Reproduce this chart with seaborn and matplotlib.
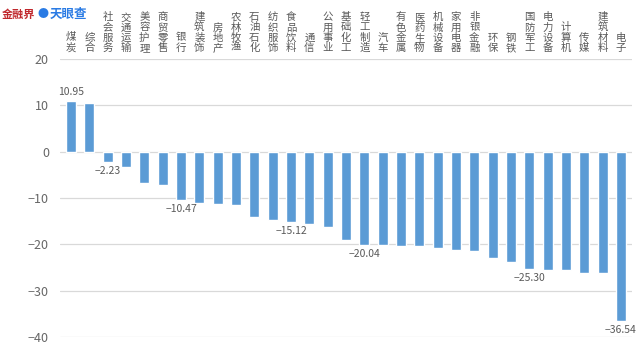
import matplotlib
matplotlib.use("Agg")
import matplotlib.pyplot as plt
import matplotlib.transforms as mtransforms
import seaborn as sns
import pandas as pd

sectors = ["煤炭", "综合", "社会服务", "交通运输", "美容护理", "商贸零售", "银行", "建筑装饰",
           "房地产", "农林牧渔", "石油石化", "纺织服饰", "食品饮料", "通信", "公用事业", "基础化工",
           "轻工制造", "汽车", "有色金属", "医药生物", "机械设备", "家用电器", "非银金融", "环保",
           "钢铁", "国防军工", "电力设备", "计算机", "传媒", "建筑材料", "电子"]
values = [10.95, 10.4, -2.23, -3.4, -6.8, -7.1, -10.47, -11.0,
          -11.2, -11.6, -14.0, -14.7, -15.12, -15.7, -16.3, -19.1,
          -20.04, -20.1, -20.4, -20.4, -20.7, -21.2, -21.5, -23.0,
          -23.8, -25.30, -25.6, -25.6, -26.1, -26.1, -36.54]
labeled = ["煤炭", "社会服务", "银行", "食品饮料", "轻工制造", "国防军工", "电子"]
yticks = [20, 10, 0, -10, -20, -30, -40]

sns.set_theme(style="white")
plt.rcParams['font.family'] = ['Noto Sans CJK SC', 'DejaVu Sans']
plt.rcParams['axes.unicode_minus'] = True

df = pd.DataFrame({"sector": sectors, "value": values})

fig = plt.figure(figsize=(6.4, 3.5), dpi=100)
ax = fig.add_axes([60/640, 13/350, 572/640, 278/350])
sns.barplot(data=df, x="sector", y="value", color="#5B9BD5", saturation=1,
            width=0.55, ax=ax, zorder=3)
ax.set_ylim(-40, 20)
ax.set_xlim(-0.6, len(sectors) - 0.4)
ax.set_yticks(yticks)
ax.set_yticklabels([str(t).replace("-", "\u2212") for t in yticks])
ax.tick_params(axis="y", colors="#666666", labelsize=9, length=0, pad=8)
ax.set_xticks([])
ax.set_xlabel("")
ax.set_ylabel("")
for s in ax.spines.values():
    s.set_visible(False)
ax.yaxis.grid(True, color="#d9d9d9", linewidth=0.9, zorder=0)

trans = mtransforms.blended_transform_factory(ax.transData, ax.transAxes)
for i, name in enumerate(sectors):
    ax.text(i, 1.022, "\n".join(name), transform=trans, ha="center", va="bottom",
            fontsize=7.5, color="#595959", linespacing=1.02)

for i, (name, v) in enumerate(zip(sectors, values)):
    if name in labeled:
        txt = f"{v:.2f}".replace("-", "\u2212")
        if v >= 0:
            ax.annotate(txt, (i, v), xytext=(0, 3), textcoords="offset points",
                        ha="center", va="bottom", fontsize=7.5, color="#595959")
        else:
            ax.annotate(txt, (i, v), xytext=(0, -3), textcoords="offset points",
                        ha="center", va="top", fontsize=7.5, color="#595959")

fig.text(2/640, 1 - 14/350, "金融界", fontsize=8, fontweight="bold", color="#c0282d",
         va="center", ha="left")
fig.text(38/640, 1 - 14/350, "●", fontsize=8, color="#2a7be4", va="center", ha="left")
fig.text(50/640, 1 - 14/350, "天眼查", fontsize=9, fontweight="bold", color="#2a7be4",
         va="center", ha="left")

fig.savefig("out.png", dpi=100)
